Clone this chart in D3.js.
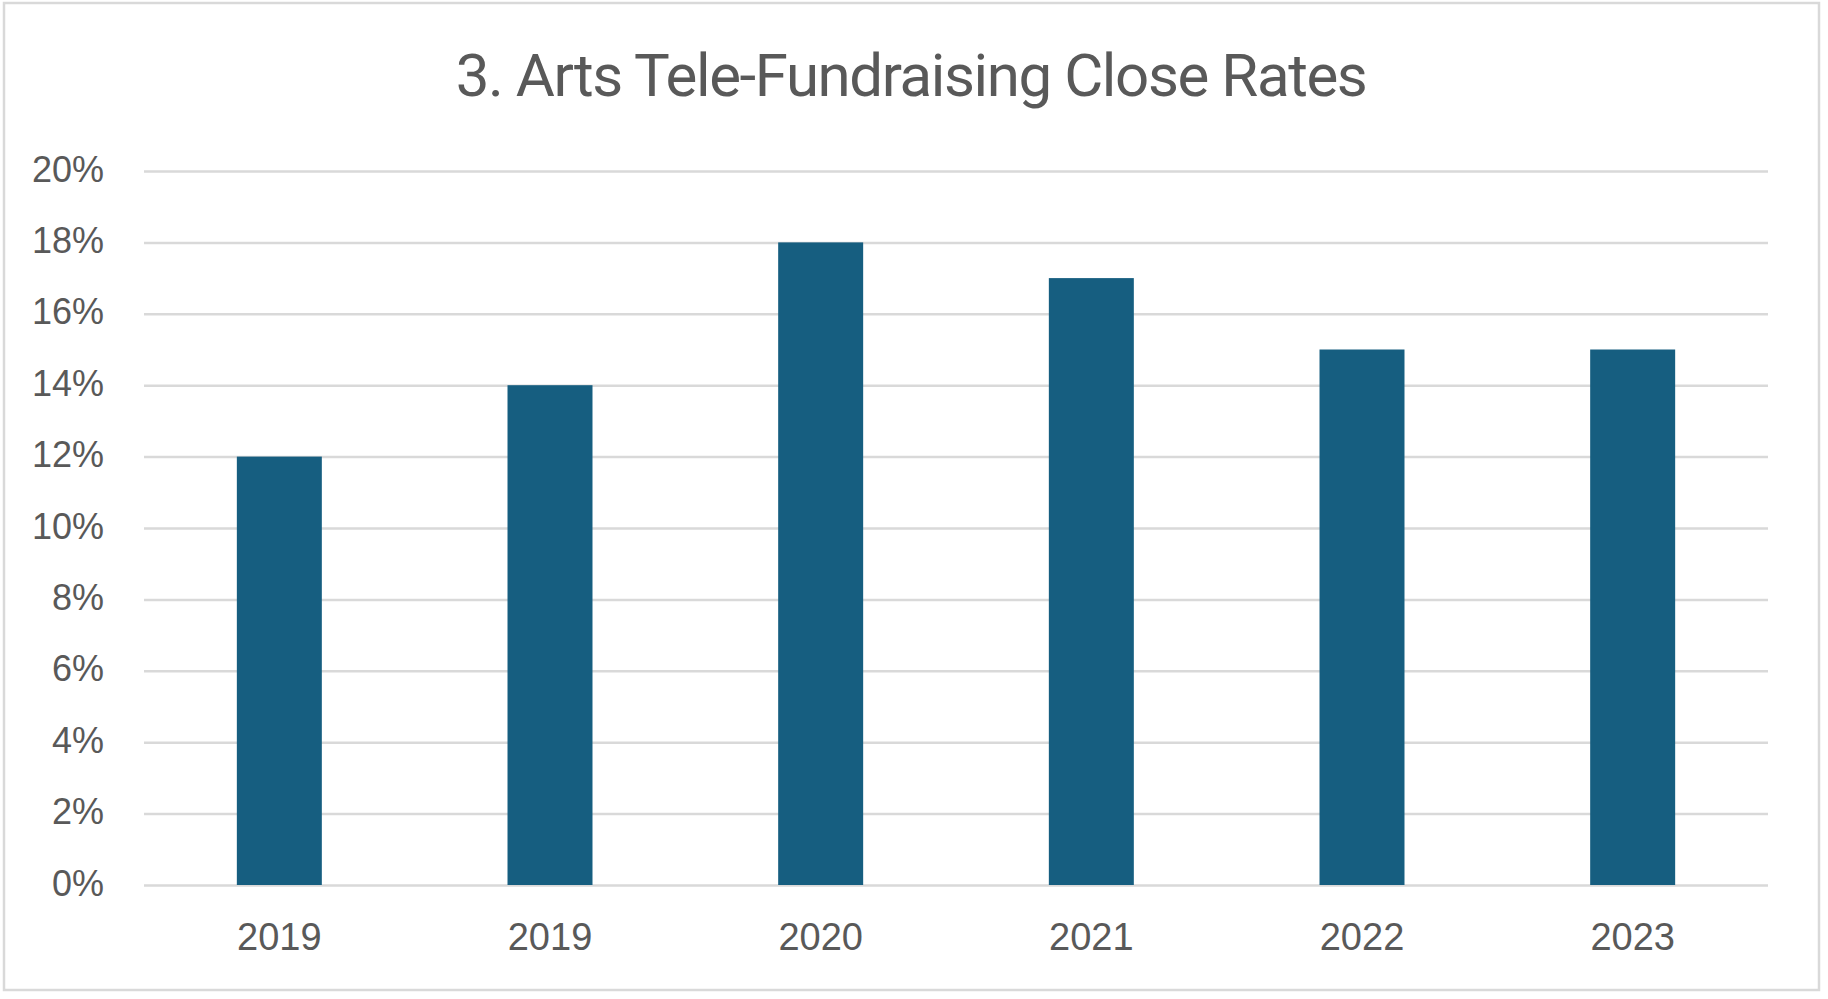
<!DOCTYPE html>
<html>
<head>
<meta charset="utf-8">
<script src="https://cdn.jsdelivr.net/npm/d3@7"></script>
<style>
    html, body { margin: 0; padding: 0; background: #fff; }
    svg { display: block; }
</style>
</head>
<body>
<svg class="chart"></svg>
<script>
const title = "3. Arts Tele-Fundraising Close Rates";
const years = ["2019", "2019", "2020", "2021", "2022", "2023"];
const closeRates = [0.12, 0.14, 0.18, 0.17, 0.15, 0.15];
const yTicks = [0, 0.02, 0.04, 0.06, 0.08, 0.10, 0.12, 0.14, 0.16, 0.18, 0.20];

const W = 1828, H = 999;
const margin = { top: 171, right: 60, bottom: 114, left: 144 };
const width = W - margin.left - margin.right;
const height = H - margin.top - margin.bottom;

const svg = d3.select(".chart")
    .attr("width", W)
    .attr("height", H);

// chart area border
svg.append("rect")
    .attr("x", 4)
    .attr("y", 3)
    .attr("width", 1815)
    .attr("height", 987)
    .attr("fill", "#fff")
    .attr("stroke", "#d9d9d9")
    .attr("stroke-width", 2.5);

svg.append("text")
    .attr("x", 911)
    .attr("y", 96)
    .attr("text-anchor", "middle")
    .style("font-family", "Roboto, 'Liberation Sans', sans-serif")
    .style("font-size", "60px")
    .style("letter-spacing", "-1.4px")
    .style("fill", "#595959")
    .text(title);

const g = svg.append("g")
    .attr("transform", `translate(${margin.left},${margin.top})`);

const x = d3.scaleBand()
    .domain(d3.range(years.length))
    .range([0, width])
    .paddingInner(0.686)
    .paddingOuter(0.343);

const y = d3.scaleLinear()
    .domain([0, 0.20])
    .range([height, 0]);

// gridlines
g.append("g")
    .call(d3.axisLeft(y).tickValues(yTicks).tickSize(-width).tickFormat(""))
    .call(a => a.select(".domain").remove())
    .selectAll("line")
    .attr("stroke", "#d9d9d9")
    .attr("stroke-width", 2.5);

g.selectAll(".bar")
    .data(closeRates)
    .enter()
    .append("rect")
    .attr("class", "bar")
    .attr("x", (d, i) => x(i))
    .attr("y", d => y(d))
    .attr("width", x.bandwidth())
    .attr("height", d => y(0) - y(d))
    .attr("fill", "#165e80");

// y tick labels
g.append("g")
    .call(d3.axisLeft(y).tickValues(yTicks).tickSize(0).tickPadding(40).tickFormat(d3.format(".0%")))
    .call(a => a.select(".domain").remove())
    .selectAll("text")
    .attr("dy", "0.28em")
    .style("font-family", "'Liberation Sans', Arial, sans-serif")
    .style("font-size", "36px")
    .style("fill", "#595959");

// x tick labels
g.append("g")
    .attr("transform", `translate(0,${height})`)
    .call(d3.axisBottom(x).tickSize(0).tickPadding(38).tickFormat(i => years[i]))
    .call(a => a.select(".domain").remove())
    .selectAll("text")
    .attr("dy", "0.72em")
    .style("font-family", "'Liberation Sans', Arial, sans-serif")
    .style("font-size", "38px")
    .style("fill", "#595959");
</script>
</body>
</html>
